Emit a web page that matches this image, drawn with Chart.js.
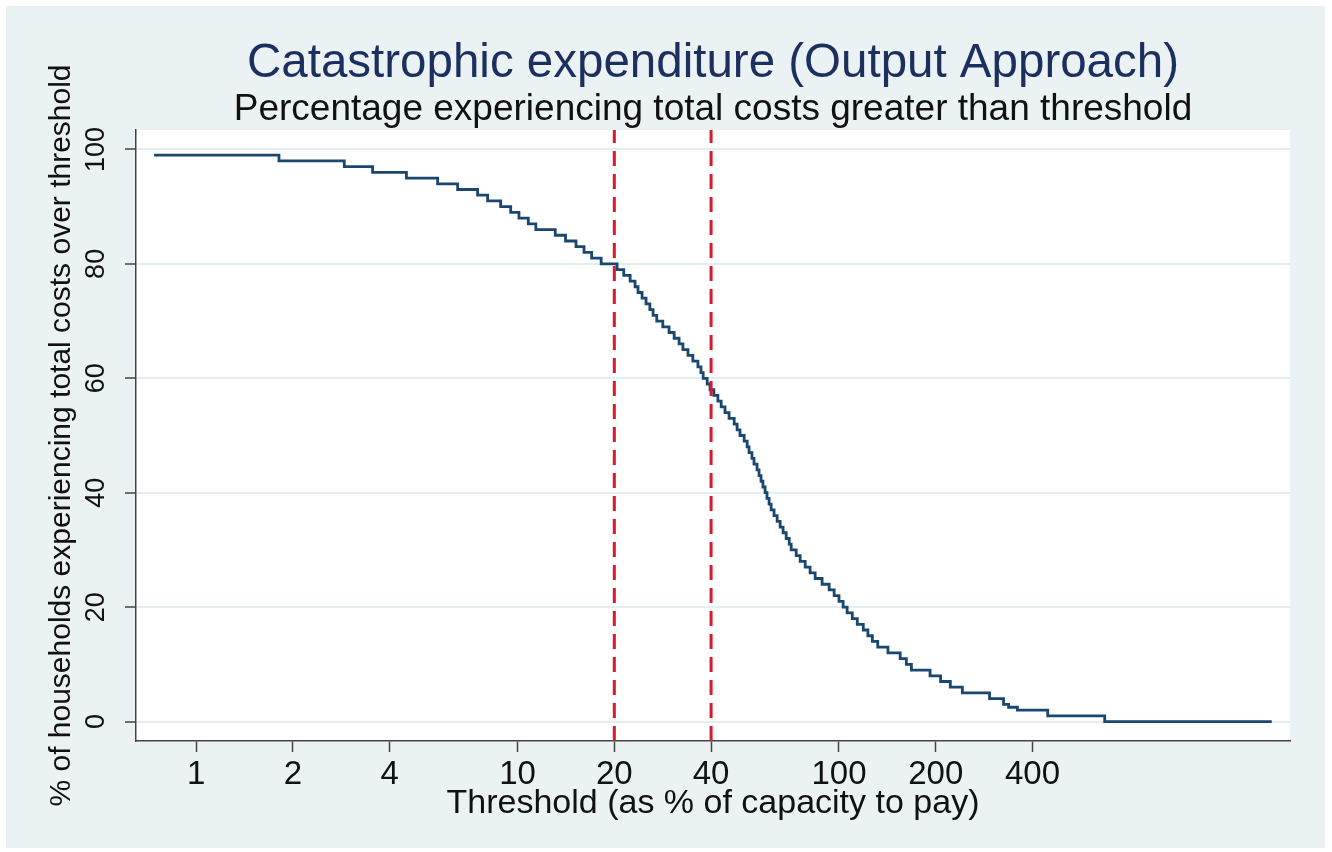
<!DOCTYPE html>
<html>
<head>
<meta charset="utf-8">
<title>Catastrophic expenditure (Output Approach)</title>
<script src="https://cdn.jsdelivr.net/npm/chart.js@4.4.1/dist/chart.umd.min.js"></script>
<style>
  html, body { margin: 0; padding: 0; background: #ffffff; }
  #wrap { width: 1332px; height: 852px; }
</style>
</head>
<body>
<div id="wrap"><canvas id="catastrophic-graph" width="1332" height="852"></canvas></div>
<script>
"use strict"

// threshold (% of capacity to pay) where the curve steps down
var thresholds = [0.74, 1.81, 2.89, 3.54, 4.51, 5.64, 6.51, 7.51, 8.07, 8.86,
  9.52, 10.1, 10.8, 11.4, 13.1, 14.1, 15.2, 16.1, 17.0, 18.2,
  20.4, 21.4, 22.4, 23.2, 23.7, 24.4, 25.1, 25.8, 26.4, 27.1,
  28.3, 29.6, 30.7, 31.8, 32.7, 33.9, 35.1, 36.4, 37.2, 37.8,
  38.9, 39.7, 40.8, 42.0, 43.0, 44.2, 45.5, 47.2, 48.2, 49.2,
  50.7, 51.8, 52.5, 53.6, 54.4, 55.6, 56.4, 57.2, 58.0, 58.9,
  59.7, 60.6, 61.5, 62.8, 64.2, 65.6, 67.0, 68.5, 70.0, 71.0,
  73.6, 75.7, 78.5, 81.3, 84.3, 88.6, 93.2, 96.6, 100, 103,
  106, 110, 114, 119, 123, 127, 132, 142, 155, 162,
  168, 192, 207, 222, 242, 294, 325, 337, 359, 446,
  671, 2220]

// % of households over the threshold from that point on
var pctOver = [99, 98, 97, 96, 95, 94, 93, 92, 91, 90,
  89, 88, 87, 86, 85, 84, 83, 82, 81, 80,
  79, 78, 77, 76, 75, 74, 73, 72, 71, 70,
  69, 68, 67, 66, 65, 64, 63, 62, 61, 60,
  59, 58, 57, 56, 55, 54, 53, 52, 51, 50,
  49, 48, 47, 46, 45, 44, 43, 42, 41, 40,
  39, 38, 37, 36, 35, 34, 33, 32, 31, 30,
  29, 28, 27, 26, 25, 24, 23, 22, 21, 20,
  19, 18, 17, 16, 15, 14, 13, 12, 11, 10,
  9, 8, 7, 6, 5, 4, 3, 2.5, 2, 1,
  0, 0]

var cutoffs = [20, 40]
var xTicks = [1, 2, 4, 10, 20, 40, 100, 200, 400]
var yTicks = [0, 20, 40, 60, 80, 100]

var xRange = [0.65, 2530]
var yRange = [-3.4, 103.4]

var catastrophic = {
  font: "'Liberation Sans', Arial, sans-serif",
  navy: '#1a476f',
  axisColor: '#444444',

  // stata-like frame: bluish gray page, white plot region
  framePlugin: {
    id: 'frame',
    beforeDraw: function(chart){
      var ctx = chart.ctx, a = chart.chartArea
      ctx.save()
      ctx.fillStyle = '#ffffff'
      ctx.fillRect(0, 0, chart.width, chart.height)
      ctx.fillStyle = '#eaf2f3'
      ctx.fillRect(6, 6, chart.width - 13, chart.height - 10)
      ctx.fillStyle = '#ffffff'
      ctx.fillRect(a.left, a.top, a.right - a.left, a.bottom - a.top)
      ctx.restore()
    }
  },

  createData: function(){
    var curve = []
    for (var i = 0; i < thresholds.length; i++) {
      curve.push({x: thresholds[i], y: pctOver[i]})
    }
    var datasets = [{
      data: curve,
      stepped: true,
      borderColor: catastrophic.navy,
      borderWidth: 2.8,
      pointRadius: 0,
      fill: false,
      order: 2
    }]
    cutoffs.forEach(function(c){
      datasets.push({
        data: [{x: c, y: yRange[0]}, {x: c, y: yRange[1]}],
        borderColor: '#d61a2f',
        borderWidth: 3,
        borderDash: [15, 8],
        pointRadius: 0,
        fill: false,
        order: 1
      })
    })
    return { datasets: datasets }
  },

  createChart: function(){
    var ctx = document.getElementById('catastrophic-graph').getContext('2d')
    var f = catastrophic.font
    return new Chart(ctx, {
      type: 'line',
      data: catastrophic.createData(),
      plugins: [catastrophic.framePlugin],
      options: {
        responsive: false,
        animation: false,
        devicePixelRatio: 1,
        layout: { padding: { top: 0, left: 0, right: 42, bottom: 0 } },
        scales: {
          x: {
            type: 'logarithmic',
            bounds: 'data',
            min: xRange[0],
            max: xRange[1],
            afterBuildTicks: function(axis){
              axis.ticks = xTicks.map(function(v){ return {value: v} })
            },
            afterFit: function(axis){ axis.height = 111 },
            ticks: {
              autoSkip: false,
              maxRotation: 0,
              padding: 3,
              color: '#111111',
              font: { family: f, size: 33 },
              callback: function(v){ return String(v) }
            },
            grid: {
              drawOnChartArea: false,
              tickLength: 11,
              tickColor: catastrophic.axisColor,
              tickWidth: 1.5
            },
            border: { display: true, color: catastrophic.axisColor, width: 1.5 },
            title: {
              display: true,
              text: 'Threshold (as % of capacity to pay)',
              color: '#111111',
              font: { family: f, size: 34 },
              padding: { top: 0, bottom: 28 }
            }
          },
          y: {
            type: 'linear',
            min: yRange[0],
            max: yRange[1],
            afterBuildTicks: function(axis){
              axis.ticks = yTicks.map(function(v){ return {value: v} })
            },
            afterFit: function(axis){ axis.width = 136 },
            ticks: {
              minRotation: 90,
              maxRotation: 90,
              crossAlign: 'center',
              padding: 5.5,
              color: '#111111',
              font: { family: f, size: 27 }
            },
            grid: {
              color: '#e4edf0',
              lineWidth: 2,
              tickLength: 11,
              tickColor: catastrophic.axisColor,
              tickWidth: 1.5
            },
            border: { display: true, color: catastrophic.axisColor, width: 1.5 },
            title: {
              display: true,
              text: '% of households experiencing total costs over threshold',
              color: '#111111',
              font: { family: f, size: 30 },
              padding: { top: 43.5, bottom: 0 }
            }
          }
        },
        plugins: {
          legend: { display: false },
          tooltip: { enabled: false },
          title: {
            display: true,
            fullSize: false,
            text: 'Catastrophic expenditure (Output Approach)',
            color: '#1c2f5f',
            font: { family: f, size: 47.5, weight: 'normal', lineHeight: 1 },
            padding: { top: 40.5, bottom: 3.5 }
          },
          subtitle: {
            display: true,
            fullSize: false,
            text: 'Percentage experiencing total costs greater than threshold',
            color: '#111111',
            font: { family: f, size: 37, weight: 'normal', lineHeight: 1 },
            padding: { top: 0, bottom: 1.5 }
          }
        }
      }
    })
  }
}

catastrophic.createChart()
</script>
</body>
</html>
